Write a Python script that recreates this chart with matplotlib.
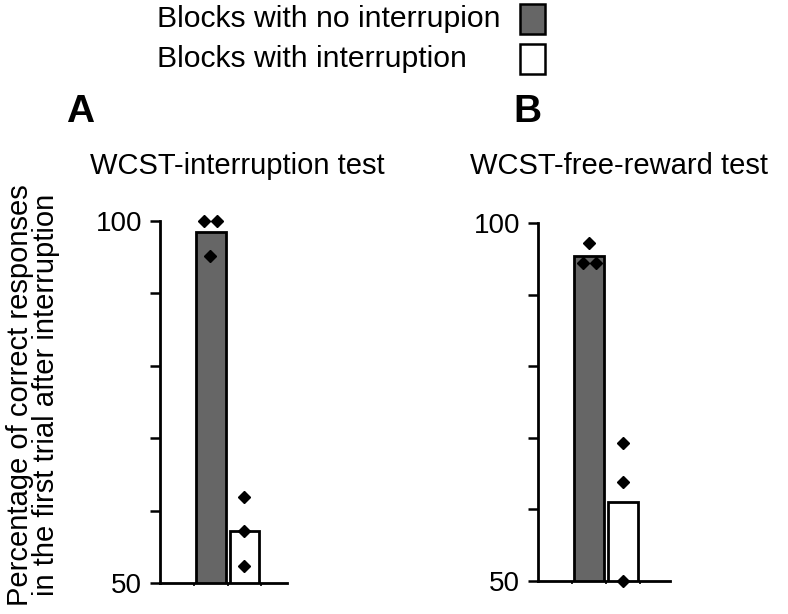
import matplotlib
matplotlib.use("Agg")
import matplotlib.pyplot as plt
from matplotlib.patches import Rectangle

plt.rcParams['font.family'] = ['Liberation Sans', 'DejaVu Sans']

# bar means (percent correct)
conditions = ['Blocks with no interrupion', 'Blocks with interruption']
titles = ['WCST-interruption test', 'WCST-free-reward test']
panel_letters = ['A', 'B']
means_a = [98.5, 57.2]
means_b = [95.4, 61.0]

# individual animals
pts_a_no = [100, 100, 95.2]
pts_a_int = [61.9, 57.2, 52.3]
pts_b_no = [97.2, 94.4, 94.4]
pts_b_int = [69.3, 63.8, 50.0]

bar_colors = ['#666666', 'white']

fig = plt.figure(figsize=(7.88, 6.14), dpi=100)
W, H = 788, 614


def fx(px):
    return px / W


def fy(py):
    return 1 - py / H


def panel(rect, means, pts_no, pts_int, jit_no, xlim, title, letter, title_x, letter_x):
    ax = fig.add_axes(rect)
    ax.bar([1, 2], means, width=0.88, color=bar_colors, edgecolor='black',
           linewidth=2.0, bottom=0, zorder=2)
    ax.plot([1 + j for j in jit_no], pts_no, 'D', color='black', ms=6.5,
            clip_on=False, zorder=3)
    ax.plot([2, 2, 2], pts_int, 'D', color='black', ms=6.5, clip_on=False, zorder=3)
    ax.set_ylim(50, 100)
    ax.set_xlim(*xlim)
    ax.set_yticks([50, 60, 70, 80, 90, 100])
    ax.set_yticklabels(['50', '', '', '', '', '100'])
    ax.set_xticks([0.5, 1.5, 2.5])
    ax.set_xticklabels([])
    ax.tick_params(axis='y', length=7, width=1.8, labelsize=20, pad=6)
    ax.tick_params(axis='x', length=2, width=1.2)
    for s in ['top', 'right']:
        ax.spines[s].set_visible(False)
    for s in ['left', 'bottom']:
        ax.spines[s].set_linewidth(2)
    fig.text(fx(title_x), fy(166), title, fontsize=21, ha='center', va='center')
    fig.text(fx(letter_x), fy(112), letter, fontsize=28, fontweight='bold',
             ha='center', va='center')
    return ax


panel([fx(160), fy(583), fx(127), (583 - 221) / H], means_a, pts_a_no, pts_a_int,
      [-0.2, 0.18, -0.03], (-0.52, 3.27), titles[0], panel_letters[0], 237, 80)
panel([fx(538), fy(581), fx(132), (581 - 223) / H], means_b, pts_b_no, pts_b_int,
      [0, -0.2, 0.2], (-0.51, 3.37), titles[1], panel_letters[1], 619, 527)

fig.text(fx(33), fy(395),
         'Percentage of correct responses\nin the first trial after interruption',
         rotation=90, fontsize=21, ha='center', va='center', multialignment='center',
         linespacing=0.92)

# legend
for i, (lab, col) in enumerate(zip(conditions, bar_colors)):
    yc = 19 + 40 * i
    fig.text(fx(157), fy(yc), lab, fontsize=21.7, ha='left', va='center')
    fig.patches.append(Rectangle((fx(520), fy(yc + 15)), fx(25), 30 / H,
                                 facecolor=col, edgecolor='black', linewidth=1.8,
                                 transform=fig.transFigure, figure=fig))

fig.savefig('out.png', dpi=100)
